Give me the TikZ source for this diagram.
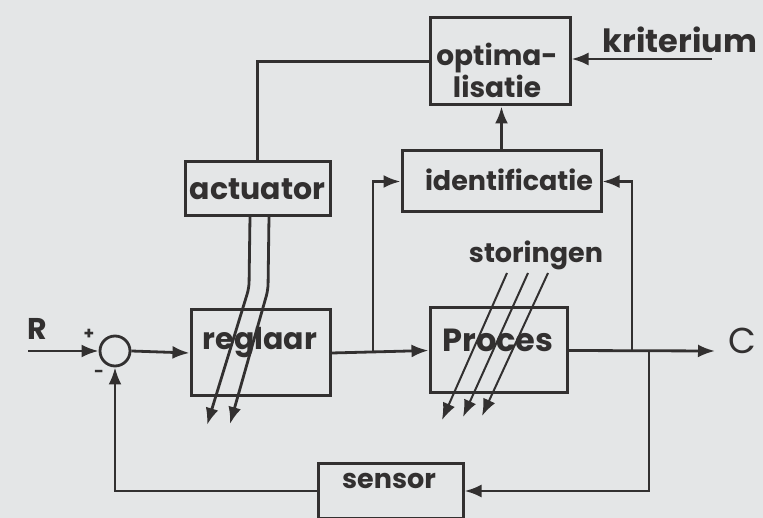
\documentclass[tikz,border=0pt]{standalone}
\usepackage{fontspec}
\setmainfont{Poppins}
\usetikzlibrary{arrows.meta}
\definecolor{ink}{RGB}{50,48,48}
\definecolor{paper}{RGB}{228,230,231}
\newcommand{\fs}[1]{\fontsize{#1}{#1}\selectfont\bfseries}
\tikzset{
  blk/.style={draw=ink, line width=3pt, rectangle, inner sep=0pt, text=ink},
  wire/.style={draw=ink, line width=2.8pt},
  arr/.style={wire, -{Latex[length=17pt,width=13pt]}},
  lbl/.style={text=ink, inner sep=0pt},
}
\begin{document}
\begin{tikzpicture}[x=1pt,y=-1pt]
\fill[paper] (0,0) rectangle (763,518);
\useasboundingbox (0,0) rectangle (763,518);

% blocks
\node[blk, minimum width=140pt, minimum height=87pt] (opt) at (500,61.5) {};
\node[lbl, font=\fs{28}, align=center] (opttxt) at (497,70) {optima-\\[1pt]lisatie};
\node[blk, minimum width=145pt, minimum height=54pt, font=\fs{30}] (act) at (257.5,189) {actuator};
\node[blk, minimum width=199pt, minimum height=61pt] (idf) at (501.5,181.5) {};
\node[lbl, font=\fs{27}] (idftxt) at (509,180) {identificatie};
\node[blk, minimum width=139pt, minimum height=86pt] (reg) at (260.5,353) {};
\node[lbl, font=\fs{30}] (regtxt) at (260,343) {reglaar};
\node[blk, minimum width=137pt, minimum height=85pt] (pro) at (498.5,350.5) {};
\node[lbl, font=\fs{32}] (protxt) at (498,340) {Proces};
\node[blk, minimum width=145pt, minimum height=55pt, anchor=north] (sen) at (390.5,462) {};
\node[lbl, font=\fs{27}] (sentxt) at (389,481) {sensor};
\node[draw=ink, line width=2.8pt, circle, minimum size=30pt, inner sep=0pt] (sum) at (115,351) {};

% labels
\node[lbl, font=\fs{30}] (R) at (37,329) {R};
\node[lbl, font=\fs{17}] (plus) at (89,334) {+};
\node[lbl, font=\fs{17}] (minus) at (99,374) {-};
\node[lbl, font=\fontsize{36}{36}\selectfont\mdseries] (C) at (742,341) {C};
\node[lbl, font=\fs{32}] (krit) at (680,40) {kriterium};
\node[lbl, font=\fs{27}] (stor) at (536,255) {storingen};

% coordinates
\coordinate (Rin) at (28,351);
\coordinate (Cout) at (715,351);
\coordinate (kin) at (712,59);
\coordinate (j1) at (373,351);
\coordinate (j2) at (632,351);
\coordinate (j3) at (649,351);

% main path
\draw[arr] (Rin) -- (sum.west);
\draw[arr] (sum.east) -- (reg.west);
\draw[arr] (reg.east) -- (pro.west);
\draw[arr] (pro.east) -- (Cout);
\draw[arr] (j1) |- (idf.west);
\draw[arr] (j2) |- (idf.east);
\draw[arr] (j3) |- (sen.east);
\draw[arr] (sen.west) -| (sum.south);
\draw[arr] (idf.north) -- (idf.north |- opt.south);
\draw[wire] (opt.west) -| (act.north);
\draw[arr] (kin) -- (kin -| opt.east);

% actuator outputs
\coordinate (a1) at (250,216);
\coordinate (a2) at (269,216);
\coordinate (a1e) at (207,425);
\coordinate (a2e) at (230,424);
\draw[arr, rounded corners=6pt] (a1) -- (249,288) -- (a1e);
\draw[arr, rounded corners=6pt] (a2) -- (268,290) -- (a2e);

% disturbances
\coordinate (s1) at (507,273);
\coordinate (s2) at (528,273);
\coordinate (s3) at (548,273);
\coordinate (s1e) at (442,420);
\coordinate (s2e) at (463,417);
\coordinate (s3e) at (482,416);
\draw[arr, line width=2pt] (s1) -- (s1e);
\draw[arr, line width=2pt] (s2) -- (s2e);
\draw[arr, line width=2pt] (s3) -- (s3e);
\end{tikzpicture}
\end{document}
